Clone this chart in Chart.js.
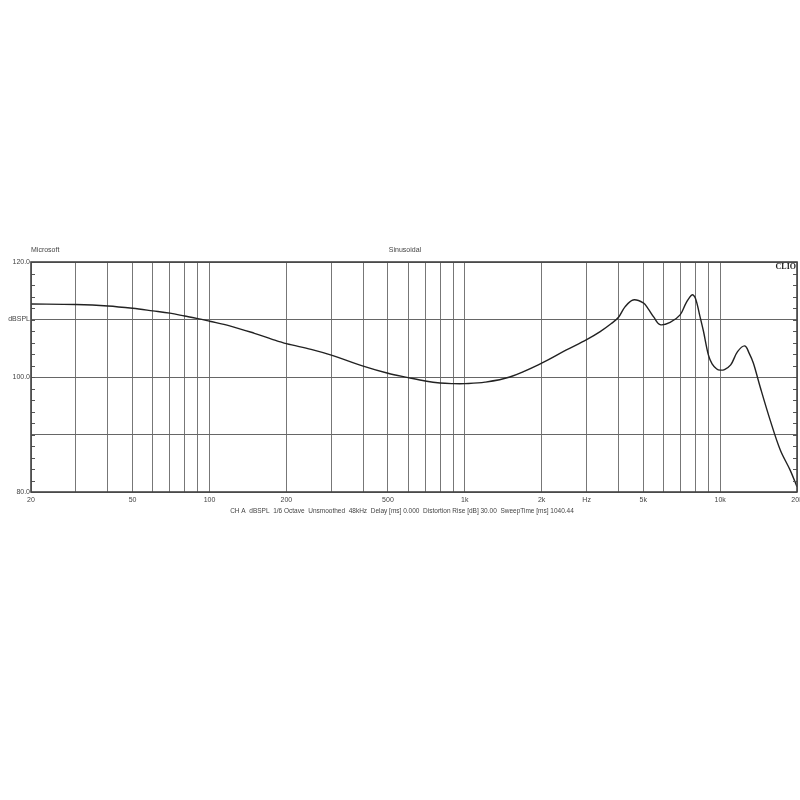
<!DOCTYPE html>
<html lang="en">
<head>
   <meta charset="UTF-8">
   <title>CLIO - dBSPL</title>
   <script src="https://cdn.jsdelivr.net/npm/chart.js"></script>
   <style>
      html, body { margin: 0; padding: 0; background: #fff; }
      #wrap { position: relative; width: 800px; height: 800px; }
   </style>
</head>
<body>
   <div id="wrap">
      <canvas id="myChart" width="800" height="800"></canvas>
   </div>
<script>
   // frequency response
   var freqs = [20, 30, 40, 50, 60, 70, 80, 90, 100, 120, 150, 175, 200, 250, 300, 400, 500, 600, 700, 800, 900, 1000,
      1200, 1500, 2000, 2500, 3000, 3390, 3750, 4000, 4240, 4560, 5000, 5220, 5500, 5820, 6370, 6970, 7360, 7760, 8000,
      8340, 8600, 9000, 9300, 9700, 10000, 10400, 11000, 11700, 12500, 13000, 13500, 14340, 15700, 17200, 18800, 20000];
   var dbspl = [112.7, 112.6, 112.35, 111.95, 111.5, 111.1, 110.6, 110.15, 109.7, 108.9, 107.6, 106.6, 105.8, 104.8, 103.8, 101.9, 100.65, 99.9, 99.3, 98.95, 98.85, 98.85,
      99.1, 100.0, 102.4, 104.7, 106.5, 107.9, 109.3, 110.4, 112.2, 113.4, 112.9, 111.9, 110.4, 109.1, 109.5, 110.8, 112.9, 114.3, 113.7,
      110.5, 108.0, 103.8, 102.3, 101.4, 101.2, 101.3, 102.1, 104.4, 105.4, 104.1, 102.4, 98.3, 92.5, 87.3, 83.8, 80.9];

   var xGrid = [20, 30, 40, 50, 60, 70, 80, 90, 100, 200, 300, 400, 500, 600, 700, 800, 900,
      1000, 2000, 3000, 4000, 5000, 6000, 7000, 8000, 9000, 10000, 20000];
   var xLabels = { 20: "20", 50: "50", 100: "100", 200: "200", 500: "500", 1000: "1k", 2000: "2k",
      3000: "Hz", 5000: "5k", 10000: "10k", 20000: "20k" };
   var yLabels = { 80: "80.0", 100: "100.0", 110: "dBSPL", 120: "120.0" };

   var bottomText = "CH A  dBSPL  1/6 Octave  Unsmoothed  48kHz  Delay [ms] 0.000  Distortion Rise [dB] 30.00  SweepTime [ms] 1040.44";

   var points = [];
   for (var i = 0; i < freqs.length; i++) {
      points.push({ x: freqs[i], y: dbspl[i] });
   }

   var fnt = { family: "Arial, 'Liberation Sans', sans-serif", size: 7 };

   // frame, small ticks and the texts round the plot
   var decor = {
      id: "decor",
      afterDraw: function (chart) {
         var ctx = chart.ctx;
         var a = chart.chartArea;
         var y = chart.scales.y;
         ctx.save();
         ctx.strokeStyle = "#555";
         ctx.lineWidth = 1;
         for (var v = 80; v <= 120; v += 2) {
            var py = Math.round(y.getPixelForValue(v)) + 0.5;
            ctx.beginPath();
            ctx.moveTo(a.left, py); ctx.lineTo(a.left + 4, py);
            ctx.moveTo(a.right - 4, py); ctx.lineTo(a.right, py);
            ctx.stroke();
         }
         ctx.lineWidth = 1.6;
         ctx.strokeStyle = "#444";
         ctx.strokeRect(a.left, a.top, a.right - a.left, a.bottom - a.top);

         ctx.fillStyle = "#444";
         ctx.font = "7px Arial, 'Liberation Sans', sans-serif";
         ctx.textBaseline = "middle";
         ctx.textAlign = "left";
         ctx.fillText("Microsoft", 31, 250);
         ctx.textAlign = "center";
         ctx.fillText("Sinusoidal", 405, 250);
         ctx.font = "6.5px Arial, 'Liberation Sans', sans-serif";
         ctx.fillText(bottomText, 402, 511);
         ctx.font = "bold 8px 'Liberation Serif', serif";
         ctx.textAlign = "right";
         ctx.fillStyle = "#222";
         ctx.fillText("CLIO", a.right - 1, a.top + 5);
         ctx.restore();
      }
   };

   var config = {
      type: "line",
      data: {
         datasets: [{
            data: points,
            borderColor: "#222",
            borderWidth: 1.4,
            pointRadius: 0,
            fill: false,
            tension: 0.35
         }]
      },
      options: {
         responsive: false,
         animation: false,
         layout: { padding: { top: 262, right: 3, left: 0, bottom: 0 } },
         plugins: { legend: { display: false }, tooltip: { enabled: false } },
         scales: {
            x: {
               type: "logarithmic",
               min: 20,
               max: 20000,
               afterBuildTicks: function (scale) {
                  scale.ticks = xGrid.map(function (v) { return { value: v }; });
               },
               afterFit: function (scale) {
                  scale.height = 800 - 492;
                  scale.paddingLeft = 0;
                  scale.paddingRight = 0;
               },
               ticks: {
                  autoSkip: false,
                  maxRotation: 0,
                  padding: 4,
                  color: "#444",
                  font: fnt,
                  callback: function (v) { return xLabels[v] || ""; }
               },
               grid: { color: "#777", lineWidth: 1, drawTicks: false },
               border: { display: false }
            },
            y: {
               min: 80,
               max: 120,
               afterBuildTicks: function (scale) {
                  var t = [];
                  for (var v = 80; v <= 120; v += 2) t.push({ value: v });
                  scale.ticks = t;
               },
               afterFit: function (scale) {
                  scale.width = 31;
                  scale.paddingTop = 0;
                  scale.paddingBottom = 0;
               },
               ticks: {
                  autoSkip: false,
                  padding: 1,
                  color: "#444",
                  font: fnt,
                  callback: function (v) { return yLabels[v] || ""; }
               },
               grid: {
                  drawTicks: false,
                  lineWidth: 1,
                  color: function (c) {
                     return c.tick && c.tick.value % 10 === 0 ? "#666" : "rgba(0,0,0,0)";
                  }
               },
               border: { display: false }
            }
         }
      },
      plugins: [decor]
   };

   new Chart(document.getElementById("myChart"), config);
</script>
</body>
</html>
